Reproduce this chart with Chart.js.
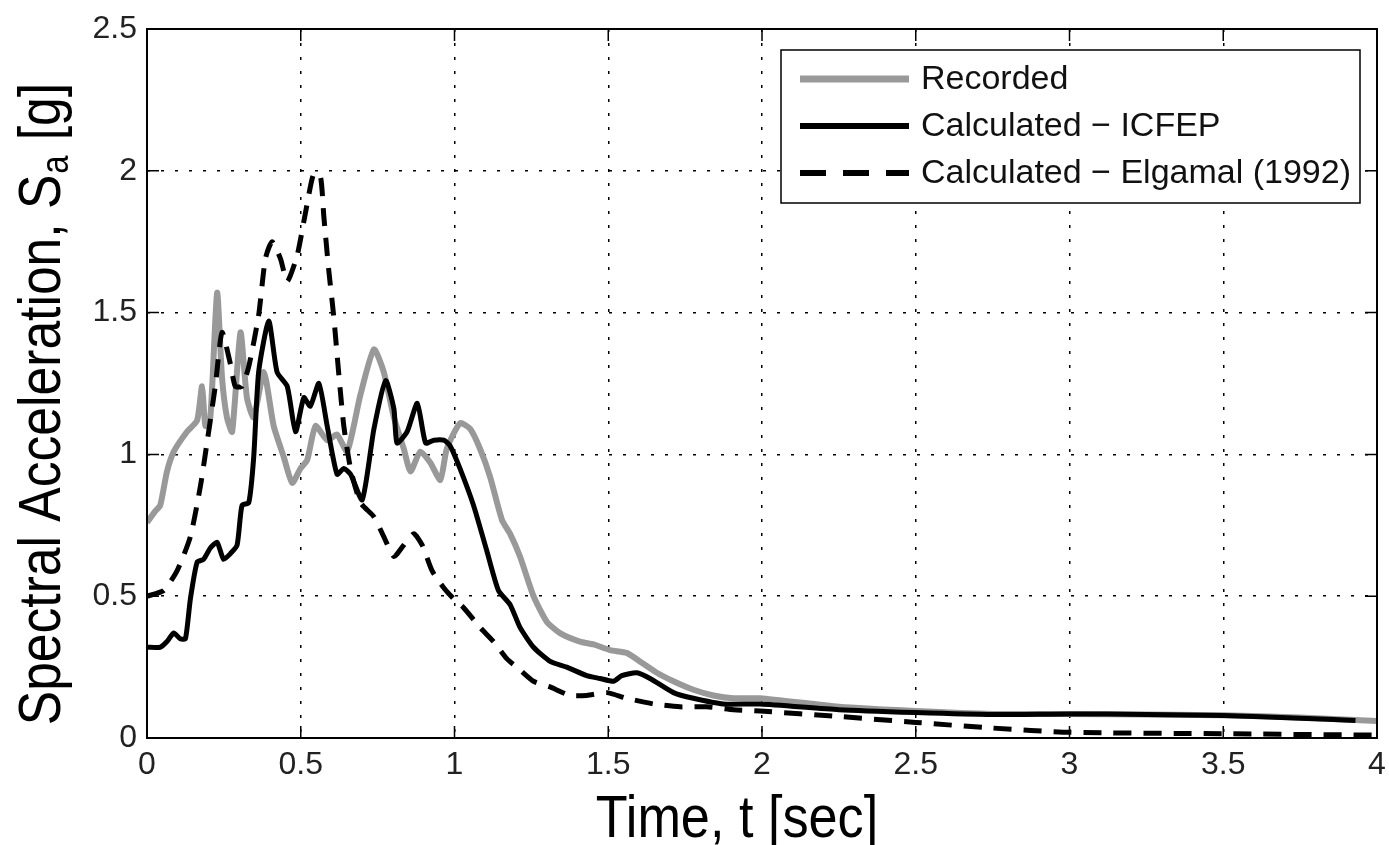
<!DOCTYPE html>
<html>
<head>
<meta charset="utf-8">
<script src="https://cdn.jsdelivr.net/npm/chart.js@4.4.1/dist/chart.umd.min.js"></script>
<style>
  html, body { margin: 0; padding: 0; background: #fff; }
  canvas { display: block; }
</style>
</head>
<body>
<canvas id="myChart" width="1389" height="845"></canvas>
<script>
// Recorded spectral acceleration
var recT = [0, 0.027, 0.043, 0.065, 0.087, 0.130, 0.163, 0.179, 0.190, 0.206, 0.228, 0.244, 0.260, 0.277,
    0.304, 0.325, 0.347, 0.380, 0.412, 0.445, 0.472, 0.499, 0.521, 0.548, 0.586, 0.618, 0.651, 0.694,
    0.738, 0.770, 0.803, 0.835, 0.857, 0.889, 0.922, 0.954, 0.975, 1.018, 1.051, 1.083, 1.116, 1.154,
    1.181, 1.213, 1.257, 1.300, 1.343, 1.408, 1.452, 1.506, 1.560, 1.603, 1.658, 1.712, 1.777, 1.842,
    1.907, 1.994, 2.25, 2.5, 2.75, 3.0, 3.5, 3.75, 4.0];
var recSa = [0.76, 0.80, 0.82, 0.94, 1.01, 1.08, 1.12, 1.24, 1.10, 1.13, 1.57, 1.27, 1.13, 1.08,
    1.43, 1.20, 1.13, 1.29, 1.10, 0.99, 0.90, 0.95, 0.98, 1.10, 1.05, 1.07, 1.01, 1.21,
    1.37, 1.29, 1.13, 1.02, 0.94, 1.01, 0.97, 0.91, 1.02, 1.11, 1.09, 1.02, 0.92, 0.77,
    0.72, 0.64, 0.50, 0.41, 0.37, 0.34, 0.33, 0.31, 0.30, 0.27, 0.23, 0.20, 0.17, 0.15,
    0.14, 0.14, 0.11, 0.095, 0.085, 0.085, 0.08, 0.072, 0.06];

// Calculated - ICFEP
var icfT = [0, 0.043, 0.065, 0.087, 0.108, 0.125, 0.141, 0.163, 0.184, 0.206, 0.228, 0.249, 0.271, 0.293,
    0.309, 0.331, 0.347, 0.363, 0.396, 0.423, 0.456, 0.483, 0.510, 0.531, 0.559, 0.586, 0.618, 0.640,
    0.662, 0.700, 0.738, 0.776, 0.803, 0.813, 0.846, 0.879, 0.906, 0.933, 0.965, 0.986, 1.018, 1.062,
    1.105, 1.143, 1.181, 1.213, 1.257, 1.311, 1.365, 1.430, 1.473, 1.517, 1.544, 1.593, 1.636, 1.712,
    1.777, 1.874, 1.994, 2.25, 2.5, 2.75, 3.0, 3.25, 3.5, 3.75, 3.93];
var icfSa = [0.32, 0.32, 0.34, 0.37, 0.35, 0.35, 0.49, 0.62, 0.63, 0.67, 0.69, 0.63, 0.65, 0.68,
    0.82, 0.83, 0.99, 1.29, 1.47, 1.29, 1.24, 1.08, 1.20, 1.17, 1.25, 1.10, 0.93, 0.95,
    0.93, 0.84, 1.09, 1.26, 1.16, 1.04, 1.08, 1.18, 1.04, 1.05, 1.05, 1.03, 0.95, 0.82,
    0.66, 0.52, 0.47, 0.39, 0.32, 0.27, 0.25, 0.22, 0.21, 0.20, 0.22, 0.23, 0.21, 0.16,
    0.14, 0.12, 0.12, 0.10, 0.09, 0.083, 0.085, 0.083, 0.079, 0.07, 0.062];

// Calculated - Elgamal (1992)
var elgT = [0, 0.054, 0.098, 0.141, 0.174, 0.195, 0.222, 0.244, 0.271, 0.287, 0.309, 0.331, 0.363, 0.385,
    0.407, 0.434, 0.456, 0.488, 0.515, 0.542, 0.564, 0.575, 0.591, 0.607, 0.624, 0.640, 0.662, 0.694,
    0.738, 0.770, 0.803, 0.835, 0.868, 0.895, 0.927, 0.965, 0.998, 1.029, 1.083, 1.127, 1.170, 1.213,
    1.257, 1.311, 1.376, 1.430, 1.495, 1.560, 1.647, 1.733, 1.820, 1.907, 1.994, 2.25, 2.5, 2.75,
    3.0, 3.5, 4.0];
var elgSa = [0.50, 0.52, 0.59, 0.71, 0.89, 1.04, 1.24, 1.43, 1.32, 1.24, 1.24, 1.31, 1.49, 1.69,
    1.75, 1.69, 1.61, 1.70, 1.85, 1.99, 1.98, 1.84, 1.65, 1.49, 1.28, 1.10, 0.95, 0.83,
    0.78, 0.71, 0.64, 0.68, 0.72, 0.68, 0.59, 0.53, 0.49, 0.46, 0.39, 0.34, 0.28, 0.24,
    0.20, 0.18, 0.15, 0.15, 0.16, 0.14, 0.12, 0.11, 0.11, 0.10, 0.095, 0.076, 0.055, 0.035,
    0.02, 0.015, 0.01];

var seriesLabels = ['Recorded', 'Calculated \u2212 ICFEP', 'Calculated \u2212 Elgamal (1992)'];
var xTitle = 'Time, t [sec]';
var yTitleParts = ['Spectral Acceleration, S', 'a', ' [g]'];

function pts(ts, vs) {
    return ts.map(function (t, i) { return { x: t, y: vs[i] }; });
}

// matlab style labels: 0, 0.5, 1, 1.5 ...
function tickLabel(v) {
    return String(Number(v.toFixed(2)));
}

var FONT = '"Liberation Sans", Arial, sans-serif';

// box, inner ticks, titles and legend, the way the original figure looks
var figurePlugin = {
    id: 'figure',
    afterDatasetsDraw: function (chart) {
        var ctx = chart.ctx, a = chart.chartArea;
        var xs = chart.scales.x, ys = chart.scales.y;
        ctx.save();
        ctx.strokeStyle = '#000';
        ctx.lineWidth = 1.5;
        ctx.setLineDash([]);
        xs.ticks.forEach(function (t) {
            var px = xs.getPixelForValue(t.value);
            ctx.beginPath();
            ctx.moveTo(px, a.bottom); ctx.lineTo(px, a.bottom - 12);
            ctx.moveTo(px, a.top); ctx.lineTo(px, a.top + 12);
            ctx.stroke();
        });
        ys.ticks.forEach(function (t) {
            var py = ys.getPixelForValue(t.value);
            ctx.beginPath();
            ctx.moveTo(a.left, py); ctx.lineTo(a.left + 12, py);
            ctx.moveTo(a.right, py); ctx.lineTo(a.right - 12, py);
            ctx.stroke();
        });
        ctx.lineWidth = 2;
        ctx.strokeRect(a.left, a.top, a.right - a.left, a.bottom - a.top);
        ctx.restore();
    },
    afterDraw: function (chart) {
        var ctx = chart.ctx;
        ctx.save();
        ctx.fillStyle = '#000';

        // x title
        ctx.save();
        ctx.translate(737, 837);
        ctx.scale(0.87, 1);
        ctx.font = '60px ' + FONT;
        ctx.textAlign = 'center';
        ctx.textBaseline = 'alphabetic';
        ctx.fillText(xTitle, 0, 0);
        ctx.restore();

        // y title with subscript
        ctx.save();
        ctx.translate(60, 405);
        ctx.rotate(-Math.PI / 2);
        ctx.scale(0.86, 1);
        var big = '60px ' + FONT, small = '38px ' + FONT;
        ctx.font = big;
        var w0 = ctx.measureText(yTitleParts[0]).width;
        var w2 = ctx.measureText(yTitleParts[2]).width;
        ctx.font = small;
        var w1 = ctx.measureText(yTitleParts[1]).width;
        var x = -(w0 + w1 + w2) / 2;
        ctx.textAlign = 'left';
        ctx.textBaseline = 'alphabetic';
        ctx.font = big;
        ctx.fillText(yTitleParts[0], x, 0);
        ctx.font = small;
        ctx.fillText(yTitleParts[1], x + w0 + 1, 8);
        ctx.font = big;
        ctx.fillText(yTitleParts[2], x + w0 + w1 + 2, 0);
        ctx.restore();

        // legend
        var lx = 781, ly = 50, lw = 579, lh = 153;
        ctx.fillStyle = '#fff';
        ctx.fillRect(lx, ly, lw, lh);
        ctx.strokeStyle = '#000';
        ctx.lineWidth = 1.5;
        ctx.setLineDash([]);
        ctx.strokeRect(lx, ly, lw, lh);
        var rows = [79, 126, 173];
        chart.data.datasets.forEach(function (ds, i) {
            ctx.beginPath();
            ctx.strokeStyle = ds.borderColor;
            ctx.lineWidth = ds.borderWidth + 1;
            ctx.setLineDash(ds.borderDash ? [26, 17] : []);
            ctx.moveTo(800, rows[i]);
            ctx.lineTo(909, rows[i]);
            ctx.stroke();
            ctx.setLineDash([]);
            ctx.fillStyle = '#111';
            ctx.font = '34px ' + FONT;
            ctx.textAlign = 'left';
            ctx.textBaseline = 'middle';
            ctx.fillText(ds.label, 921, rows[i] + 1);
        });
        ctx.restore();
    }
};

var ctx = document.getElementById('myChart');
var myChart = new Chart(ctx, {
    type: 'line',
    data: {
        datasets: [
            {
                label: seriesLabels[0],
                data: pts(recT, recSa),
                borderColor: '#999999',
                borderWidth: 6,
                order: 3
            },
            {
                label: seriesLabels[1],
                data: pts(icfT, icfSa),
                borderColor: '#000000',
                borderWidth: 5,
                order: 2
            },
            {
                label: seriesLabels[2],
                data: pts(elgT, elgSa),
                borderColor: '#000000',
                borderWidth: 5,
                borderDash: [18, 12],
                order: 1
            }
        ]
    },
    options: {
        responsive: false,
        animation: false,
        parsing: false,
        elements: {
            point: { radius: 0 },
            line: { tension: 0.2, fill: false, borderCapStyle: 'butt' }
        },
        layout: { padding: { top: 29, right: 12, left: 0, bottom: 0 } },
        plugins: {
            legend: { display: false },
            tooltip: { enabled: false }
        },
        scales: {
            x: {
                type: 'linear',
                min: 0,
                max: 4,
                afterFit: function (s) {
                    s.height = 107;
                    s.paddingLeft = 0;
                    s.paddingRight = 0;
                },
                ticks: {
                    stepSize: 0.5,
                    color: '#222',
                    font: { family: FONT, size: 32 },
                    padding: 8,
                    maxRotation: 0,
                    callback: tickLabel
                },
                grid: { color: '#000', lineWidth: 1.5, drawTicks: false },
                border: { display: false, dash: [3, 11] }
            },
            y: {
                type: 'linear',
                min: 0,
                max: 2.5,
                afterFit: function (s) {
                    s.width = 147;
                    s.paddingTop = 0;
                    s.paddingBottom = 0;
                },
                ticks: {
                    stepSize: 0.5,
                    color: '#222',
                    font: { family: FONT, size: 32 },
                    padding: 10,
                    callback: tickLabel
                },
                grid: { color: '#000', lineWidth: 1.5, drawTicks: false },
                border: { display: false, dash: [3, 11] }
            }
        }
    },
    plugins: [figurePlugin]
});
</script>
</body>
</html>
